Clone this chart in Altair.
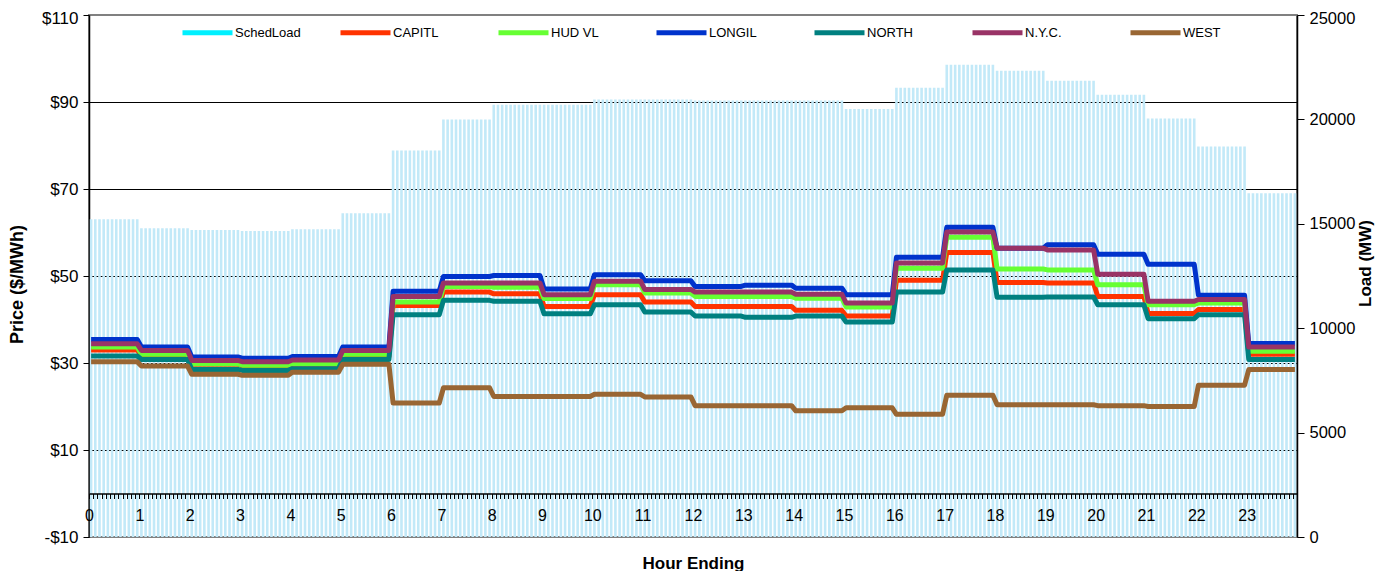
import altair as alt
import pandas as pd

# ---------------- data ----------------
hours = list(range(24))
hour_labels = [str(h) for h in hours]

sched_load = [15220, 14790, 14700, 14650, 14740, 15500, 18510, 19990, 20700, 20700,
              20950, 20950, 20900, 20900, 20900, 20500, 21520, 22620, 22330, 21850,
              21180, 20040, 18700, 16460]

capitl = [33.0, 31.6, 29.7, 29.3, 29.7, 31.4, 43.2, 46.3, 45.9, 43.0, 45.7, 44.0,
          43.0, 43.0, 42.1, 40.8, 49.0, 55.4, 48.5, 48.4, 45.3, 41.4, 42.3, 32.0]
hud_vl = [33.7, 32.0, 29.8, 29.5, 29.9, 32.0, 44.0, 47.6, 47.4, 44.8, 48.0, 46.1,
          45.3, 45.3, 44.9, 42.9, 51.8, 58.9, 51.6, 51.4, 48.0, 43.4, 43.8, 32.7]
longil = [35.4, 33.7, 31.4, 31.1, 31.5, 33.7, 46.5, 49.9, 50.1, 47.0, 50.3, 48.9,
          47.6, 47.9, 47.2, 45.7, 54.3, 61.2, 56.4, 57.2, 55.0, 52.7, 45.6, 34.5]
north = [31.6, 30.8, 28.5, 28.3, 28.7, 30.8, 41.1, 44.4, 44.2, 41.3, 43.4, 41.7,
         40.8, 40.5, 40.8, 39.4, 46.3, 51.4, 45.1, 45.2, 43.4, 40.2, 41.1, 30.8]
nyc = [34.4, 32.9, 30.6, 30.3, 30.7, 32.9, 45.3, 48.4, 48.4, 45.7, 48.8, 46.9,
       46.3, 46.3, 45.8, 43.8, 53.0, 60.1, 56.4, 56.0, 50.4, 44.2, 44.6, 33.7]
west = [30.3, 29.3, 27.4, 27.2, 27.9, 29.7, 20.8, 24.3, 22.3, 22.3, 22.8, 22.2,
        20.2, 20.2, 19.0, 19.7, 18.2, 22.6, 20.4, 20.4, 20.2, 20.0, 24.9, 28.5]

series_names = ["CAPITL", "HUD VL", "LONGIL", "NORTH", "N.Y.C.", "WEST"]
series_values = [capitl, hud_vl, longil, north, nyc, west]
legend_names = ["SchedLoad"] + series_names
legend_colors = ["#00F0FF", "#FF3300", "#66FF33", "#0033CC", "#008080", "#993366", "#996633"]

price_ticks = [-10, 10, 30, 50, 70, 90, 110]
load_ticks = [0, 5000, 10000, 15000, 20000, 25000]
intervals_per_hour = 12  # 5-minute intervals

# ---------------- tables built from the arrays ----------------
bar_rows = []
for h, load in zip(hours, sched_load):
    for k in range(intervals_per_hour):
        c = h * intervals_per_hour + k
        bar_rows.append({"t": (c + 0.5) / intervals_per_hour, "load": load})
bar_df = pd.DataFrame(bar_rows)

line_rows = []
for name, vals in zip(series_names, series_values):
    for h, v in zip(hours, vals):
        c0 = h * intervals_per_hour
        c1 = c0 + intervals_per_hour - 1
        line_rows.append({"series": name, "t": (c0 + 0.5) / intervals_per_hour, "price": v})
        line_rows.append({"series": name, "t": (c1 + 0.5) / intervals_per_hour, "price": v})
line_df = pd.DataFrame(line_rows)

x_tick_values = [i / intervals_per_hour for i in range(24 * intervals_per_hour + 1)]

FONT = "Liberation Sans"
PLOT_W = 1208
PLOT_H = 522

x_axis = alt.Axis(
    title="Hour Ending",
    values=x_tick_values,
    labelExpr="(datum.value % 1 === 0 && datum.value < 24) ? '' + datum.value : ''",
    labelOverlap=False,
    labelFlush=False,
    labelBound=False,
    labelFontSize=16,
    labelPadding=9,
    tickSize=5,
    tickWidth=1,
    domainWidth=1.5,
    offset=-43.5,
    zindex=1,
    grid=False,
    titleFontSize=17,
    titleFontWeight="bold",
    titleX=604,
    titleY=69.5,
    titleBaseline="middle",
    titleAlign="center",
)
x_scale = alt.Scale(domain=[0, 24], nice=False, zero=False, padding=0)

bars = alt.Chart(bar_df).mark_bar(width=2.6, color="#C2E9F8").encode(
    x=alt.X("t:Q", scale=x_scale, axis=x_axis),
    y=alt.Y(
        "load:Q",
        scale=alt.Scale(domain=[0, 25000], nice=False),
        axis=alt.Axis(
            orient="right",
            title="Load (MW)",
            values=load_ticks,
            format="d",
            grid=False,
            labelFontSize=16.5,
            labelPadding=5,
            labelOffset=alt.condition("datum.value > 24000", alt.value(3), alt.value(0)),
            tickSize=7,
            domainWidth=1.5,
            titleFontSize=17,
            titleFontWeight="bold",
            titleAngle=270,
            titleX=68,
            titleY=248,
            titleBaseline="middle",
            titleAlign="center",
        ),
    ),
)

lines = alt.Chart(line_df).mark_line(strokeWidth=5, strokeJoin="round").encode(
    x=alt.X("t:Q", scale=x_scale, axis=x_axis),
    y=alt.Y(
        "price:Q",
        scale=alt.Scale(domain=[-10, 110], nice=False, zero=False),
        axis=alt.Axis(
            orient="left",
            title="Price ($/MWh)",
            values=price_ticks,
            labelExpr="datum.value < 0 ? '-$' + abs(datum.value) : '$' + datum.value",
            grid=True,
            gridColor=alt.condition("datum.value > 100 || datum.value < 0",
                                    alt.value("#808080"), alt.value("black")),
            gridWidth=1,
            labelFontSize=17,
            labelPadding=5,
            labelOffset=alt.condition("datum.value > 100", alt.value(3), alt.value(0)),
            tickSize=6,
            domainWidth=1.5,
            titleFontSize=18,
            titleFontWeight="bold",
            titleAngle=270,
            titleX=-72,
            titleY=269,
            titleBaseline="middle",
            titleAlign="center",
        ),
    ),
    color=alt.Color(
        "series:N",
        scale=alt.Scale(domain=legend_names, range=legend_colors),
        legend=alt.Legend(
            title=None,
            orient="none",
            legendX=91,
            legendY=-10,
            direction="horizontal",
            columns=7,
            symbolType="stroke",
            symbolSize=2500,
            symbolStrokeWidth=5,
            labelFontSize=13,
            labelFont=FONT,
            labelColor="black",
            labelOffset=0,
            columnPadding=29,
            gridAlign="all",
            padding=0,
        ),
    ),
)

chart = (
    alt.layer(bars, lines)
    .resolve_scale(y="independent")
    .properties(
        width=PLOT_W,
        height=PLOT_H,
        autosize=alt.AutoSizeParams(type="none"),
        padding={"left": 81, "top": 7, "right": 80, "bottom": 34},
        background="white",
    )
    .configure_view(stroke="#808080", strokeWidth=2)
    .configure_axis(
        labelFont=FONT,
        titleFont=FONT,
        labelColor="black",
        titleColor="black",
        domainColor="black",
        tickColor="black",
    )
)

chart.save("out.html", embed_options={"renderer": "svg", "actions": False})
